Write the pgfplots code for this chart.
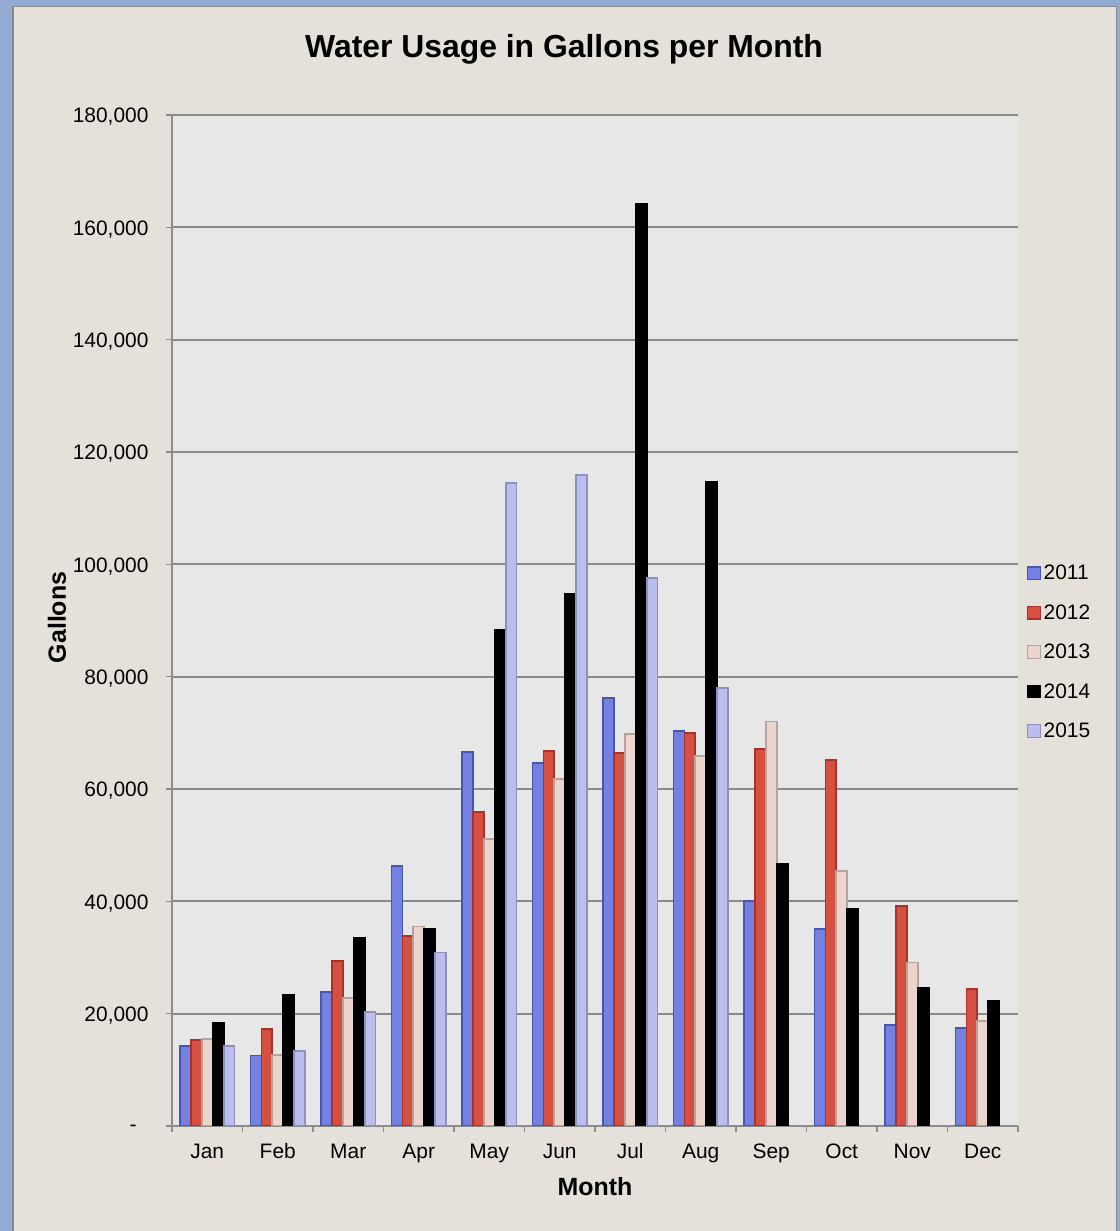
\documentclass[border=0pt]{standalone}
\usepackage{pgfplots}
\pgfplotsset{compat=1.18}
\usepackage{fontspec}
\setmainfont{Liberation Sans}

\definecolor{frameblue}{HTML}{93AAD3}
\definecolor{panel}{HTML}{E5E1DA}
\definecolor{framegray}{HTML}{8A8A8A}
\definecolor{plotbg}{HTML}{E7E7E7}
\definecolor{axisgray}{HTML}{8C8C8C}
\definecolor{gridgray}{HTML}{8A8A8A}
\definecolor{cA}{HTML}{7481E0}\definecolor{cAd}{HTML}{4956AE}
\definecolor{cB}{HTML}{D55041}\definecolor{cBd}{HTML}{A8312A}
\definecolor{cC}{HTML}{EBD4CB}\definecolor{cCd}{HTML}{B7A39B}
\definecolor{cD}{HTML}{000000}\definecolor{cDd}{HTML}{000000}
\definecolor{cE}{HTML}{BBBDEC}\definecolor{cEd}{HTML}{8E91C0}

% monthly water usage (gallons), months indexed 0 = Jan ... 11 = Dec
\pgfplotstableread{
m  v
0  14300
1  12550
2  23790
3  46290
4  66600
5  64630
6  76210
7  70280
8  40000
9  35010
10 18040
11 17380
}\yearA
\pgfplotstableread{
m  v
0  15260
1  17340
2  29370
3  33870
4  55900
5  66830
6  66420
7  69930
8  67180
9  65100
10 39230
11 24390
}\yearB
\pgfplotstableread{
m  v
0  15430
1  12670
2  22780
3  35530
4  51120
5  61830
6  69800
7  65830
8  72000
9  45410
10 29120
11 18750
}\yearC
\pgfplotstableread{
m  v
0  18390
1  23370
2  33490
3  35170
4  88360
5  94720
6  164220
7  114640
8  46720
9  38630
10 24630
11 22190
}\yearD
\pgfplotstableread{
m  v
0  14240
1  13310
2  20360
3  30900
4  114410
5  115940
6  97510
7  77990
}\yearE

\begin{document}
\begin{tikzpicture}[x=1bp,y=1bp]
\useasboundingbox (0,0) rectangle (1120,1231);
\fill[frameblue] (0,0) rectangle (1120,1231);
\fill[panel] (12,-5) rectangle (1117,1225);
\draw[line width=1.5bp, framegray] (12.75,-5) -- (12.75,1224.25) -- (1116.25,1224.25) -- (1116.25,-5);
\begin{axis}[
  at={(172bp,105bp)}, anchor=south west,
  scale only axis, width=846bp, height=1011bp,
  ybar=0pt, bar width=10.9bp,
  xmin=-0.5, xmax=11.5, ymin=0, ymax=180000,
  scaled y ticks=false,
  xtick={-0.5,0.5,1.5,2.5,3.5,4.5,5.5,6.5,7.5,8.5,9.5,10.5,11.5},
  xticklabels={Jan,Feb,Mar,Apr,May,Jun,Jul,Aug,Sep,Oct,Nov,Dec,{}},
  xticklabel style={anchor=base, xshift=35.25bp, yshift=-26bp},
  ytick={0,20000,40000,60000,80000,100000,120000,140000,160000,180000},
  yticklabels={{-\kern12bp},{20,000},{40,000},{60,000},{80,000},{100,000},{120,000},{140,000},{160,000},{180,000}},
  yticklabel style={anchor=east, xshift=-14bp, yshift=-2bp},
  ticklabel style={font=\fontsize{21}{25}\selectfont},
  axis lines*=left,
  axis line style={line width=1.5bp, draw=axisgray},
  tick style={line width=1.5bp, draw=axisgray},
  tick align=outside, major tick length=6bp,
  ymajorgrids, grid style={line width=2bp, draw=gridgray},
  axis background/.style={fill=plotbg},
  title={Water Usage in Gallons per Month},
  title style={at={(axis description cs:0.4634,1.0514)}, anchor=base, font=\fontsize{32}{38}\selectfont\bfseries},
  xlabel={Month},
  xlabel style={at={(axis description cs:0.5,-0.0689)}, anchor=base, font=\fontsize{25}{30}\selectfont\bfseries},
  ylabel={Gallons},
  ylabel style={at={(axis description cs:-0.1253,0.503)}, anchor=base, font=\fontsize{25}{30}\selectfont\bfseries},
  legend style={draw=none, fill=none, at={(axis description cs:1.0103,0.5549)}, anchor=north west,
    font=\fontsize{21}{25}\selectfont, row sep=23.3bp, column sep=3bp, inner sep=0pt, nodes={inner sep=0pt}},
  legend cell align=left,
  legend image code/.code={\draw[#1, line width=1.2bp] (0bp,-6.3bp) rectangle (12.6bp,6.3bp);},
]
\addplot[fill=cA, draw=cAd, line width=1.8bp] table[x=m, y=v] {\yearA};
\addplot[fill=cB, draw=cBd, line width=1.8bp] table[x=m, y=v] {\yearB};
\addplot[fill=cC, draw=cCd, line width=1.8bp] table[x=m, y=v] {\yearC};
\addplot[fill=cD, draw=cDd, line width=1.8bp] table[x=m, y=v] {\yearD};
\addplot[fill=cE, draw=cEd, line width=1.8bp] table[x=m, y=v] {\yearE};
\legend{2011,2012,2013,2014,2015}
\end{axis}
\end{tikzpicture}
\end{document}
